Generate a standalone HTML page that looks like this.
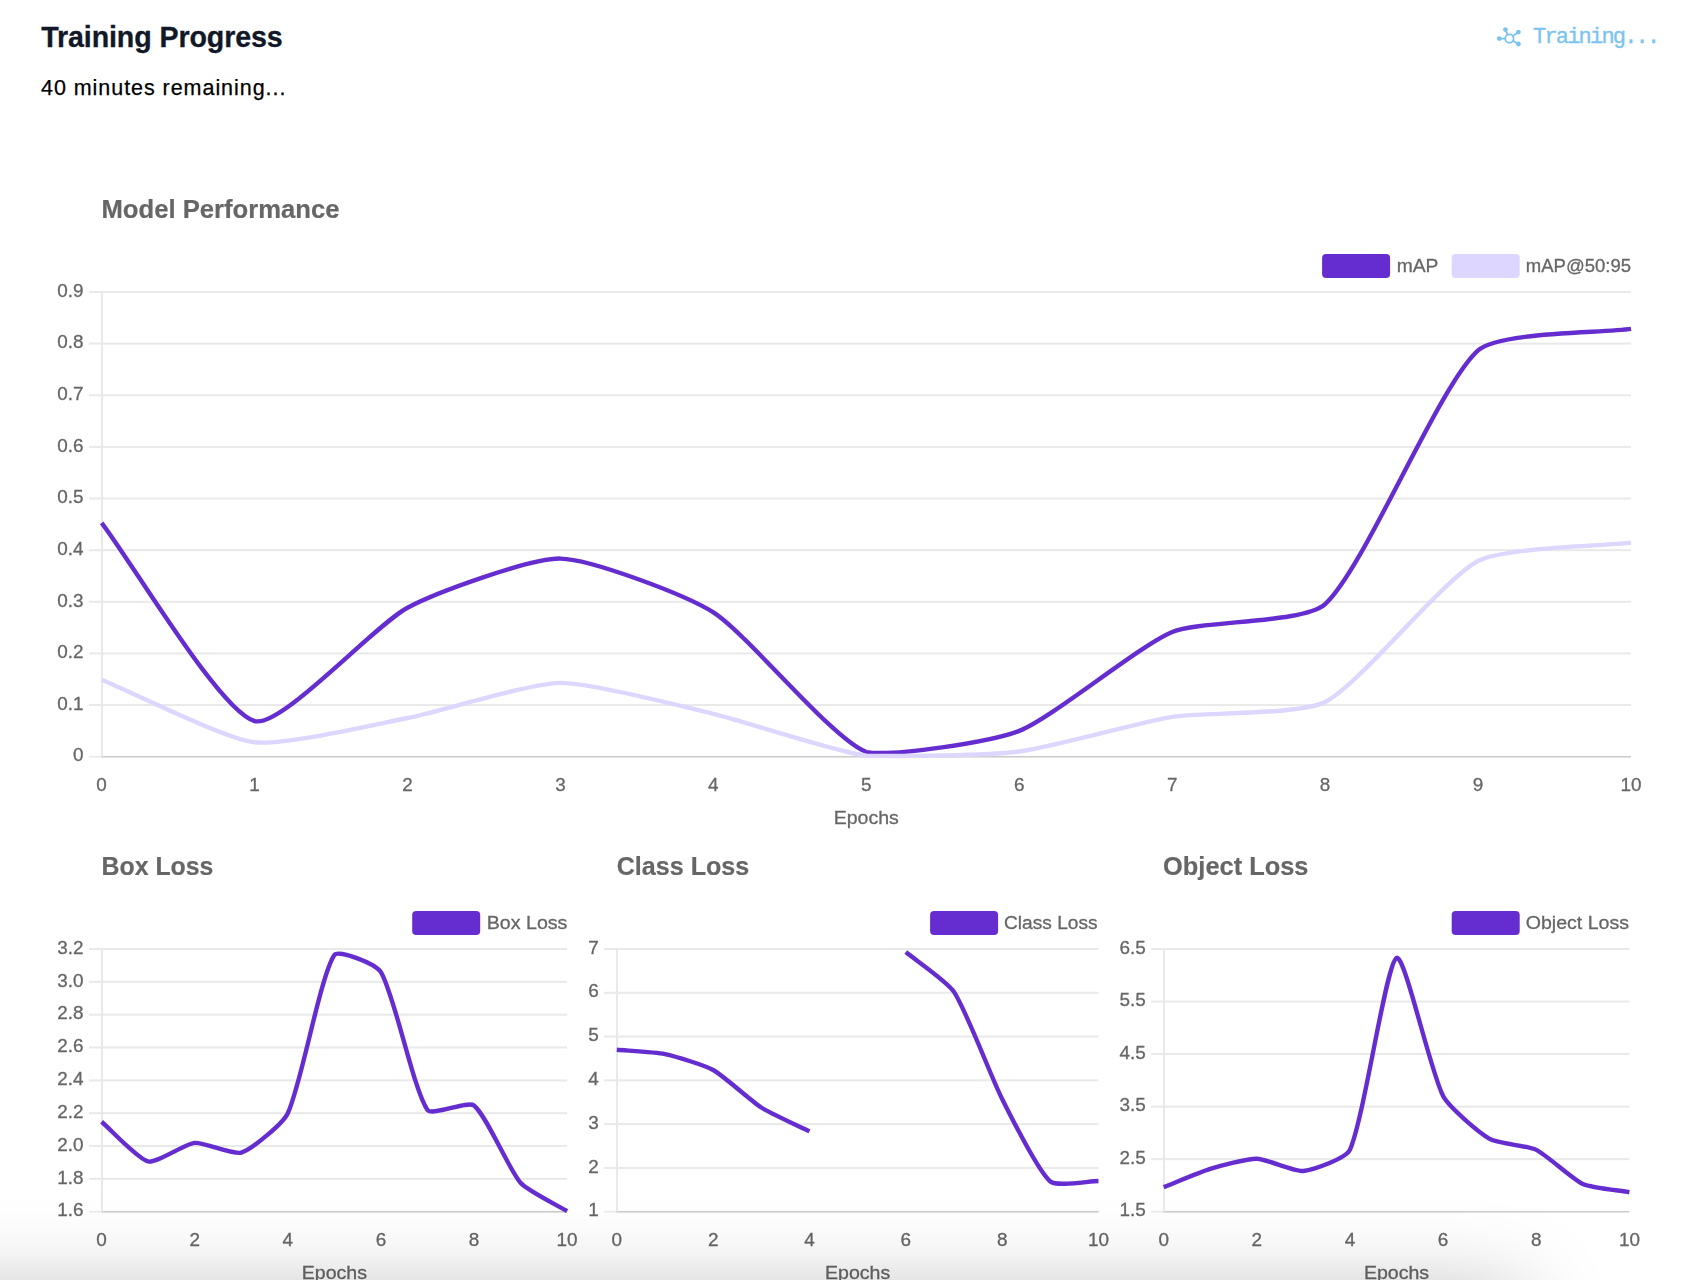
<!DOCTYPE html>
<html lang="en">
<head>
<meta charset="utf-8">
<title>Training Progress</title>
<style>
html,body{margin:0;padding:0;background:#ffffff;width:1696px;height:1280px;overflow:hidden;}
#page{width:1696px;height:1280px;position:relative;overflow:hidden;background:#ffffff;font-family:"Liberation Sans",sans-serif;}
.h1{position:absolute;left:41.2px;top:17.4px;font-size:28.6px;line-height:40px;font-weight:700;color:#111827;letter-spacing:-0.1px;-webkit-text-stroke:0.3px #111827;white-space:nowrap;}
.sub{position:absolute;left:41px;top:72.8px;font-size:21.5px;line-height:30px;color:#000000;letter-spacing:0.95px;-webkit-text-stroke:0.25px #000;white-space:nowrap;}
.status{position:absolute;left:1533px;top:24.8px;font-family:"Liberation Mono",monospace;font-size:22px;letter-spacing:-1.8px;line-height:26px;color:#7cc4ee;-webkit-text-stroke:0.35px #7cc4ee;white-space:nowrap;}
.icon{position:absolute;left:1490px;top:20px;width:40px;height:32px;}
svg.charts{position:absolute;left:0;top:0;width:1696px;height:1280px;will-change:transform;}
svg.charts text{font-family:"Liberation Sans",sans-serif;}
.tk{font-size:19.2px;fill:#666666;stroke:#666666;stroke-width:0.3px;}
.tt{font-size:25.0px;font-weight:700;fill:#666666;stroke:#666666;stroke-width:0.2px;}
.shade{position:absolute;left:-300px;top:1290px;width:1822px;height:300px;pointer-events:none;box-shadow:0 0 80px rgba(0,0,0,0.25);}
</style>
</head>
<body>
<div id="page">
<div class="h1">Training Progress</div>
<div class="sub">40 minutes remaining...</div>
<svg class="icon" viewBox="0 0 40 32">
<g stroke="#7cc4ee" stroke-width="1.8" fill="none" stroke-linecap="round">
<circle cx="19.4" cy="18.6" r="4.2"/>
<line x1="9.3" y1="18.6" x2="15.2" y2="18.6"/>
<line x1="15.4" y1="9.7" x2="17.6" y2="14.7"/>
<line x1="28.3" y1="12.2" x2="22.8" y2="15.9"/>
<line x1="28.3" y1="24" x2="23" y2="20.9"/>
</g>
<g fill="#7cc4ee">
<circle cx="9.3" cy="18.6" r="2.4"/>
<circle cx="15.4" cy="9.6" r="2.4"/>
<circle cx="28.4" cy="12.1" r="2.4"/>
<circle cx="28.4" cy="24" r="2.4"/>
</g>
</svg>
<div class="status">Training...</div>
<svg class="charts" viewBox="0 0 1696 1280">
<rect x="89" y="755.95" width="1542" height="1.5" fill="#e9e9e9"/>
<rect x="89" y="704.07" width="1542" height="2" fill="#e9e9e9"/>
<rect x="89" y="652.43" width="1542" height="2" fill="#e9e9e9"/>
<rect x="89" y="600.8" width="1542" height="2" fill="#e9e9e9"/>
<rect x="89" y="549.17" width="1542" height="2" fill="#e9e9e9"/>
<rect x="89" y="497.53" width="1542" height="2" fill="#e9e9e9"/>
<rect x="89" y="445.9" width="1542" height="2" fill="#e9e9e9"/>
<rect x="89" y="394.27" width="1542" height="2" fill="#e9e9e9"/>
<rect x="89" y="342.63" width="1542" height="2" fill="#e9e9e9"/>
<rect x="89" y="291" width="1542" height="2" fill="#e9e9e9"/>
<rect x="101" y="755.95" width="1530" height="1.5" fill="#cdcdcd"/>
<rect x="101" y="292" width="2" height="464.7" fill="#e9e9e9"/>
<path d="M101.60 522.80 C132.19 562.46 219.79 711.43 254.54 721.07 C280.96 728.41 374.30 625.31 407.48 607.69 C435.47 592.81 529.97 558.12 560.42 558.58 C591.15 559.05 686.50 595.35 713.36 612.33 C747.68 634.04 831.25 738.47 866.30 752.05 C892.42 756.70 991.17 741.90 1019.24 730.88 C1052.35 717.89 1139.18 645.68 1172.18 632.01 C1200.35 620.33 1304.06 623.51 1325.12 604.12 C1365.24 567.19 1437.85 386.63 1478.06 350.45 C1499.03 331.59 1600.41 333.22 1631.00 328.92" fill="none" stroke="#652dd0" stroke-width="4.4" stroke-linejoin="miter" stroke-linecap="butt"/>
<path d="M101.60 679.77 C132.19 692.26 222.96 738.30 254.54 742.24 C284.14 745.94 377.09 723.87 407.48 717.98 C438.27 712.00 529.75 683.28 560.42 682.86 C590.92 682.45 683.02 706.62 713.36 713.84 C744.19 721.18 835.17 751.83 866.30 755.67 C896.34 756.70 989.03 755.36 1019.24 751.54 C1050.20 747.62 1141.28 721.95 1172.18 716.94 C1202.46 712.04 1299.13 715.22 1325.12 701.97 C1360.30 684.03 1442.91 579.32 1478.06 561.01 C1504.09 547.45 1600.41 546.26 1631.00 542.58" fill="none" stroke="#ddd6fe" stroke-width="4.4" stroke-linejoin="miter" stroke-linecap="butt"/>
<text x="83.6" y="761.4" text-anchor="end" class="tk" textLength="10.52" lengthAdjust="spacingAndGlyphs">0</text>
<text x="83.6" y="709.77" text-anchor="end" class="tk" textLength="26.29" lengthAdjust="spacingAndGlyphs">0.1</text>
<text x="83.6" y="658.13" text-anchor="end" class="tk" textLength="26.29" lengthAdjust="spacingAndGlyphs">0.2</text>
<text x="83.6" y="606.5" text-anchor="end" class="tk" textLength="26.29" lengthAdjust="spacingAndGlyphs">0.3</text>
<text x="83.6" y="554.87" text-anchor="end" class="tk" textLength="26.29" lengthAdjust="spacingAndGlyphs">0.4</text>
<text x="83.6" y="503.23" text-anchor="end" class="tk" textLength="26.29" lengthAdjust="spacingAndGlyphs">0.5</text>
<text x="83.6" y="451.6" text-anchor="end" class="tk" textLength="26.29" lengthAdjust="spacingAndGlyphs">0.6</text>
<text x="83.6" y="399.97" text-anchor="end" class="tk" textLength="26.29" lengthAdjust="spacingAndGlyphs">0.7</text>
<text x="83.6" y="348.33" text-anchor="end" class="tk" textLength="26.29" lengthAdjust="spacingAndGlyphs">0.8</text>
<text x="83.6" y="296.7" text-anchor="end" class="tk" textLength="26.29" lengthAdjust="spacingAndGlyphs">0.9</text>
<text x="101.6" y="790.6" text-anchor="middle" class="tk" textLength="10.52" lengthAdjust="spacingAndGlyphs">0</text>
<text x="254.54" y="790.6" text-anchor="middle" class="tk" textLength="10.52" lengthAdjust="spacingAndGlyphs">1</text>
<text x="407.48" y="790.6" text-anchor="middle" class="tk" textLength="10.52" lengthAdjust="spacingAndGlyphs">2</text>
<text x="560.42" y="790.6" text-anchor="middle" class="tk" textLength="10.52" lengthAdjust="spacingAndGlyphs">3</text>
<text x="713.36" y="790.6" text-anchor="middle" class="tk" textLength="10.52" lengthAdjust="spacingAndGlyphs">4</text>
<text x="866.3" y="790.6" text-anchor="middle" class="tk" textLength="10.52" lengthAdjust="spacingAndGlyphs">5</text>
<text x="1019.24" y="790.6" text-anchor="middle" class="tk" textLength="10.52" lengthAdjust="spacingAndGlyphs">6</text>
<text x="1172.18" y="790.6" text-anchor="middle" class="tk" textLength="10.52" lengthAdjust="spacingAndGlyphs">7</text>
<text x="1325.12" y="790.6" text-anchor="middle" class="tk" textLength="10.52" lengthAdjust="spacingAndGlyphs">8</text>
<text x="1478.06" y="790.6" text-anchor="middle" class="tk" textLength="10.52" lengthAdjust="spacingAndGlyphs">9</text>
<text x="1631" y="790.6" text-anchor="middle" class="tk" textLength="21.04" lengthAdjust="spacingAndGlyphs">10</text>
<text x="866.3" y="824.4" text-anchor="middle" class="tk" textLength="65.20" lengthAdjust="spacingAndGlyphs">Epochs</text>
<text x="101.5" y="218" class="tt" textLength="238.04" lengthAdjust="spacingAndGlyphs">Model Performance</text>
<rect x="1322.1" y="254" width="68" height="24" rx="4" ry="4" fill="#652dd0"/>
<text x="1396.7" y="271.9" class="tk" textLength="41.75" lengthAdjust="spacingAndGlyphs">mAP</text>
<rect x="1451.7" y="254" width="68" height="24" rx="4" ry="4" fill="#ddd6fe"/>
<text x="1525.8" y="271.9" class="tk" textLength="105.25" lengthAdjust="spacingAndGlyphs">mAP@50:95</text>
<rect x="89" y="1210.95" width="478.1" height="1.5" fill="#e9e9e9"/>
<rect x="89" y="1177.86" width="478.1" height="2" fill="#e9e9e9"/>
<rect x="89" y="1145.03" width="478.1" height="2" fill="#e9e9e9"/>
<rect x="89" y="1112.19" width="478.1" height="2" fill="#e9e9e9"/>
<rect x="89" y="1079.35" width="478.1" height="2" fill="#e9e9e9"/>
<rect x="89" y="1046.51" width="478.1" height="2" fill="#e9e9e9"/>
<rect x="89" y="1013.67" width="478.1" height="2" fill="#e9e9e9"/>
<rect x="89" y="980.84" width="478.1" height="2" fill="#e9e9e9"/>
<rect x="89" y="948" width="478.1" height="2" fill="#e9e9e9"/>
<rect x="101" y="1210.95" width="466.1" height="1.5" fill="#cdcdcd"/>
<rect x="101" y="949" width="2" height="262.7" fill="#e9e9e9"/>
<path d="M101.60 1121.73 C110.91 1129.67 137.91 1159.13 148.15 1161.46 C156.53 1163.37 185.15 1143.82 194.70 1142.91 C203.77 1142.04 233.09 1155.20 241.25 1152.59 C251.71 1149.25 282.77 1123.86 287.80 1113.19 C301.39 1084.35 320.04 976.76 334.35 955.07 C338.66 949.00 376.17 964.28 380.90 972.15 C394.79 995.24 413.36 1089.73 427.45 1109.90 C431.98 1116.39 467.65 1100.50 474.00 1105.47 C486.27 1115.07 508.94 1169.62 520.55 1182.80 C527.56 1190.77 557.79 1205.53 567.10 1211.21" fill="none" stroke="#652dd0" stroke-width="4.4" stroke-linejoin="miter" stroke-linecap="butt"/>
<text x="83.6" y="1216.4" text-anchor="end" class="tk" textLength="26.29" lengthAdjust="spacingAndGlyphs">1.6</text>
<text x="83.6" y="1183.56" text-anchor="end" class="tk" textLength="26.29" lengthAdjust="spacingAndGlyphs">1.8</text>
<text x="83.6" y="1150.73" text-anchor="end" class="tk" textLength="26.29" lengthAdjust="spacingAndGlyphs">2.0</text>
<text x="83.6" y="1117.89" text-anchor="end" class="tk" textLength="26.29" lengthAdjust="spacingAndGlyphs">2.2</text>
<text x="83.6" y="1085.05" text-anchor="end" class="tk" textLength="26.29" lengthAdjust="spacingAndGlyphs">2.4</text>
<text x="83.6" y="1052.21" text-anchor="end" class="tk" textLength="26.29" lengthAdjust="spacingAndGlyphs">2.6</text>
<text x="83.6" y="1019.38" text-anchor="end" class="tk" textLength="26.29" lengthAdjust="spacingAndGlyphs">2.8</text>
<text x="83.6" y="986.54" text-anchor="end" class="tk" textLength="26.29" lengthAdjust="spacingAndGlyphs">3.0</text>
<text x="83.6" y="953.7" text-anchor="end" class="tk" textLength="26.29" lengthAdjust="spacingAndGlyphs">3.2</text>
<text x="101.6" y="1245.7" text-anchor="middle" class="tk" textLength="10.52" lengthAdjust="spacingAndGlyphs">0</text>
<text x="194.7" y="1245.7" text-anchor="middle" class="tk" textLength="10.52" lengthAdjust="spacingAndGlyphs">2</text>
<text x="287.8" y="1245.7" text-anchor="middle" class="tk" textLength="10.52" lengthAdjust="spacingAndGlyphs">4</text>
<text x="380.9" y="1245.7" text-anchor="middle" class="tk" textLength="10.52" lengthAdjust="spacingAndGlyphs">6</text>
<text x="474" y="1245.7" text-anchor="middle" class="tk" textLength="10.52" lengthAdjust="spacingAndGlyphs">8</text>
<text x="567.1" y="1245.7" text-anchor="middle" class="tk" textLength="21.04" lengthAdjust="spacingAndGlyphs">10</text>
<text x="334.35" y="1279.4" text-anchor="middle" class="tk" textLength="65.20" lengthAdjust="spacingAndGlyphs">Epochs</text>
<text x="101.5" y="875.1" class="tt" textLength="111.96" lengthAdjust="spacingAndGlyphs">Box Loss</text>
<rect x="412.2" y="911" width="68" height="24" rx="4" ry="4" fill="#652dd0"/>
<text x="486.8" y="928.9" class="tk" textLength="80.64" lengthAdjust="spacingAndGlyphs">Box Loss</text>
<rect x="604" y="1210.95" width="494.5" height="1.5" fill="#e9e9e9"/>
<rect x="604" y="1166.92" width="494.5" height="2" fill="#e9e9e9"/>
<rect x="604" y="1123.13" width="494.5" height="2" fill="#e9e9e9"/>
<rect x="604" y="1079.35" width="494.5" height="2" fill="#e9e9e9"/>
<rect x="604" y="1035.57" width="494.5" height="2" fill="#e9e9e9"/>
<rect x="604" y="991.78" width="494.5" height="2" fill="#e9e9e9"/>
<rect x="604" y="948" width="494.5" height="2" fill="#e9e9e9"/>
<rect x="616" y="1210.95" width="482.5" height="1.5" fill="#cdcdcd"/>
<rect x="616" y="949" width="2" height="262.7" fill="#e9e9e9"/>
<path d="M616.80 1049.79 C626.43 1050.65 655.57 1052.11 664.97 1054.08 C674.83 1056.15 704.40 1065.13 713.14 1069.97 C723.66 1075.81 751.06 1100.96 761.31 1107.50 C770.33 1113.25 799.85 1126.62 809.48 1131.40 M905.82 952.06 C915.45 960.03 947.30 981.70 953.99 991.91 C966.56 1011.09 991.53 1078.09 1002.16 1099.00 C1010.80 1116.01 1037.52 1170.58 1050.33 1181.49 C1056.79 1186.99 1088.87 1181.14 1098.50 1181.05" fill="none" stroke="#652dd0" stroke-width="4.4" stroke-linejoin="miter" stroke-linecap="butt"/>
<text x="598.8" y="1216.4" text-anchor="end" class="tk" textLength="10.52" lengthAdjust="spacingAndGlyphs">1</text>
<text x="598.8" y="1172.62" text-anchor="end" class="tk" textLength="10.52" lengthAdjust="spacingAndGlyphs">2</text>
<text x="598.8" y="1128.83" text-anchor="end" class="tk" textLength="10.52" lengthAdjust="spacingAndGlyphs">3</text>
<text x="598.8" y="1085.05" text-anchor="end" class="tk" textLength="10.52" lengthAdjust="spacingAndGlyphs">4</text>
<text x="598.8" y="1041.27" text-anchor="end" class="tk" textLength="10.52" lengthAdjust="spacingAndGlyphs">5</text>
<text x="598.8" y="997.48" text-anchor="end" class="tk" textLength="10.52" lengthAdjust="spacingAndGlyphs">6</text>
<text x="598.8" y="953.7" text-anchor="end" class="tk" textLength="10.52" lengthAdjust="spacingAndGlyphs">7</text>
<text x="616.8" y="1245.7" text-anchor="middle" class="tk" textLength="10.52" lengthAdjust="spacingAndGlyphs">0</text>
<text x="713.14" y="1245.7" text-anchor="middle" class="tk" textLength="10.52" lengthAdjust="spacingAndGlyphs">2</text>
<text x="809.48" y="1245.7" text-anchor="middle" class="tk" textLength="10.52" lengthAdjust="spacingAndGlyphs">4</text>
<text x="905.82" y="1245.7" text-anchor="middle" class="tk" textLength="10.52" lengthAdjust="spacingAndGlyphs">6</text>
<text x="1002.16" y="1245.7" text-anchor="middle" class="tk" textLength="10.52" lengthAdjust="spacingAndGlyphs">8</text>
<text x="1098.5" y="1245.7" text-anchor="middle" class="tk" textLength="21.04" lengthAdjust="spacingAndGlyphs">10</text>
<text x="857.65" y="1279.4" text-anchor="middle" class="tk" textLength="65.20" lengthAdjust="spacingAndGlyphs">Epochs</text>
<text x="616.7" y="875.1" class="tt" textLength="132.54" lengthAdjust="spacingAndGlyphs">Class Loss</text>
<rect x="930.1" y="911" width="68" height="24" rx="4" ry="4" fill="#652dd0"/>
<text x="1004" y="928.9" class="tk" textLength="93.58" lengthAdjust="spacingAndGlyphs">Class Loss</text>
<rect x="1151" y="1210.95" width="478.4" height="1.5" fill="#e9e9e9"/>
<rect x="1151" y="1158.16" width="478.4" height="2" fill="#e9e9e9"/>
<rect x="1151" y="1105.62" width="478.4" height="2" fill="#e9e9e9"/>
<rect x="1151" y="1053.08" width="478.4" height="2" fill="#e9e9e9"/>
<rect x="1151" y="1000.54" width="478.4" height="2" fill="#e9e9e9"/>
<rect x="1151" y="948" width="478.4" height="2" fill="#e9e9e9"/>
<rect x="1163" y="1210.95" width="466.4" height="1.5" fill="#cdcdcd"/>
<rect x="1163" y="949" width="2" height="262.7" fill="#e9e9e9"/>
<path d="M1163.70 1187.11 C1173.01 1183.47 1200.73 1171.79 1210.27 1168.88 C1219.36 1166.11 1247.57 1158.53 1256.84 1158.74 C1266.20 1158.95 1294.38 1171.86 1303.41 1170.98 C1313.01 1170.05 1346.14 1158.48 1349.98 1149.70 C1364.77 1115.87 1385.84 964.10 1396.55 957.93 C1404.47 953.38 1430.12 1070.87 1443.12 1096.11 C1448.75 1107.05 1479.09 1132.71 1489.69 1138.83 C1497.72 1143.46 1527.82 1145.77 1536.26 1149.86 C1546.44 1154.80 1572.59 1179.30 1582.83 1183.96 C1591.22 1187.77 1620.09 1190.56 1629.40 1192.21" fill="none" stroke="#652dd0" stroke-width="4.4" stroke-linejoin="miter" stroke-linecap="butt"/>
<text x="1145.9" y="1216.4" text-anchor="end" class="tk" textLength="26.29" lengthAdjust="spacingAndGlyphs">1.5</text>
<text x="1145.9" y="1163.86" text-anchor="end" class="tk" textLength="26.29" lengthAdjust="spacingAndGlyphs">2.5</text>
<text x="1145.9" y="1111.32" text-anchor="end" class="tk" textLength="26.29" lengthAdjust="spacingAndGlyphs">3.5</text>
<text x="1145.9" y="1058.78" text-anchor="end" class="tk" textLength="26.29" lengthAdjust="spacingAndGlyphs">4.5</text>
<text x="1145.9" y="1006.24" text-anchor="end" class="tk" textLength="26.29" lengthAdjust="spacingAndGlyphs">5.5</text>
<text x="1145.9" y="953.7" text-anchor="end" class="tk" textLength="26.29" lengthAdjust="spacingAndGlyphs">6.5</text>
<text x="1163.7" y="1245.7" text-anchor="middle" class="tk" textLength="10.52" lengthAdjust="spacingAndGlyphs">0</text>
<text x="1256.84" y="1245.7" text-anchor="middle" class="tk" textLength="10.52" lengthAdjust="spacingAndGlyphs">2</text>
<text x="1349.98" y="1245.7" text-anchor="middle" class="tk" textLength="10.52" lengthAdjust="spacingAndGlyphs">4</text>
<text x="1443.12" y="1245.7" text-anchor="middle" class="tk" textLength="10.52" lengthAdjust="spacingAndGlyphs">6</text>
<text x="1536.26" y="1245.7" text-anchor="middle" class="tk" textLength="10.52" lengthAdjust="spacingAndGlyphs">8</text>
<text x="1629.4" y="1245.7" text-anchor="middle" class="tk" textLength="21.04" lengthAdjust="spacingAndGlyphs">10</text>
<text x="1396.55" y="1279.4" text-anchor="middle" class="tk" textLength="65.20" lengthAdjust="spacingAndGlyphs">Epochs</text>
<text x="1163.1" y="875.1" class="tt" textLength="145.38" lengthAdjust="spacingAndGlyphs">Object Loss</text>
<rect x="1451.7" y="911" width="68" height="24" rx="4" ry="4" fill="#652dd0"/>
<text x="1525.7" y="928.9" class="tk" textLength="103.42" lengthAdjust="spacingAndGlyphs">Object Loss</text>
</svg>
<div class="shade"></div>
</div>
</body>
</html>
